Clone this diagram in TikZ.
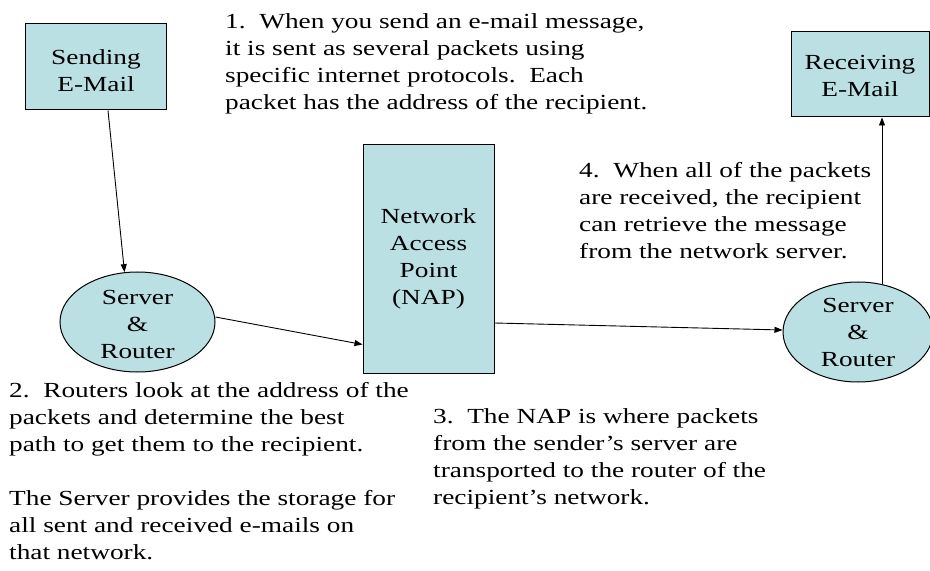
\documentclass[tikz,border=0pt]{standalone}
\usepackage{fontspec}
\setmainfont{Liberation Serif}[FakeStretch=1.27]
\usetikzlibrary{shapes.geometric,arrows.meta,calc}
\definecolor{boxfill}{RGB}{187,224,227}
\begin{document}
\begin{tikzpicture}[x=1bp,y=-1bp,
  every node/.style={font=\fontsize{21.5bp}{27bp}\selectfont},
  shapebox/.style={draw=black,line width=1bp,fill=boxfill,rectangle,inner sep=0pt},
  shapeell/.style={draw=black,line width=1bp,fill=boxfill,ellipse,inner sep=0pt},
  intext/.style={align=center,inner sep=0pt},
  note/.style={anchor=north west,inner sep=0pt,align=left},
  conn/.style={line width=0.9bp,-{Triangle[length=8bp,width=6bp]}}]
\useasboundingbox (0,0) rectangle (930,571);
% shapes
\node[shapebox,minimum width=140bp,minimum height=86bp] (send) at (96,67) {};
\node[shapebox,minimum width=138bp,minimum height=85bp] (recv) at (860,74.5) {};
\node[shapebox,minimum width=131bp,minimum height=228bp] (nap) at (428.5,259) {};
\node[shapeell,minimum width=155bp,minimum height=100bp] (srv1) at (137.5,322) {};
\node[shapeell,minimum width=150bp,minimum height=100bp] (srv2) at (858,332) {};
% shape texts
\node[intext] (sendtxt) at ($(send)+(0,3.6)$) {Sending\\E-Mail};
\node[intext] (recvtxt) at ($(recv)+(0,1.5)$) {Receiving\\E-Mail};
\node[intext] (naptxt) at (nap) {Network\\Access\\Point\\(NAP)};
\node[intext] (srv1txt) at ($(srv1)+(0,2.5)$) {Server\\\&\\Router};
\node[intext] (srv2txt) at (srv2) {Server\\\&\\Router};
% connectors
\draw[conn] ($(send.south)+(12,0)$) -- ($(srv1.north)+(-13,0.7)$);
\draw[conn] ($(srv1.east)+(0,-5)$) -- ($(nap.south west)+(0,-29)$);
\draw[conn] ($(nap.east)+(0,64)$) -- ($(srv2.west)+(0,-2)$);
\draw[conn] ($(srv2.north)+(24,2.6)$) -- ($(recv.south)+(22,0)$);
% notes
\node[note] (n1) at (225,13) {1.\ \ When you send an e-mail message,\\it is sent as several packets using\\specific internet protocols.\ \ Each\\packet has the address of the recipient.};
\node[note] (n4) at (579,162) {4.\ \ When all of the packets\\are received, the recipient\\can retrieve the message\\from the network server.};
\node[note] (n2) at (9,382) {2.\ \ Routers look at the address of the\\packets and determine the best\\path to get them to the recipient.\\[27bp]The Server provides the storage for\\all sent and received e-mails on\\that network.};
\node[note] (n3) at (433,408) {3.\ \ The NAP is where packets\\from the sender’s server are\\transported to the router of the\\recipient’s network.};
\end{tikzpicture}
\end{document}
